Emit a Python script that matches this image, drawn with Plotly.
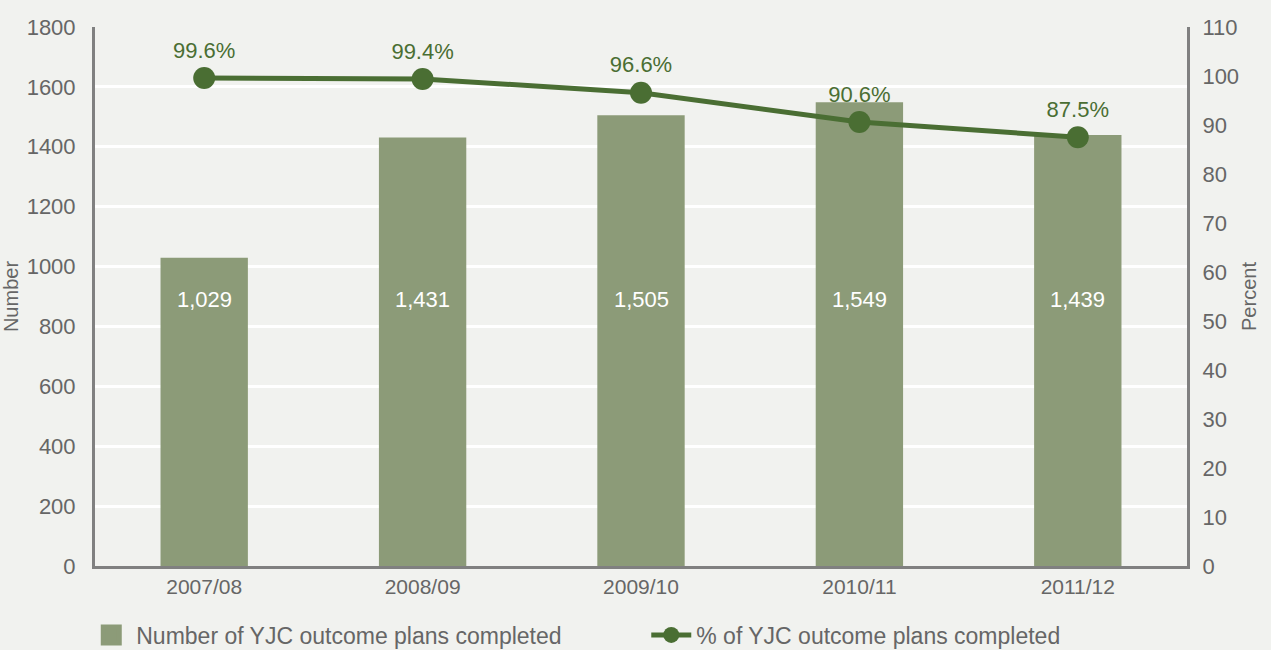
import plotly.graph_objects as go

years = ["2007/08", "2008/09", "2009/10", "2010/11", "2011/12"]
plans_completed = [1029, 1431, 1505, 1549, 1439]
pct_completed = [99.6, 99.4, 96.6, 90.6, 87.5]

bar_color = "#8c9b78"
line_color = "#4a6e33"
bg = "#f1f2ef"
axis_gray = "#808080"
text_gray = "#666666"
font_family = "Liberation Sans, Arial, sans-serif"

fig = go.Figure()
fig.add_trace(go.Bar(
    x=years, y=plans_completed, name="Number of YJC outcome plans completed",
    marker=dict(color=bar_color, line=dict(width=0)), yaxis="y", showlegend=False,
))
# legend entry with large square swatch for the bar series
fig.add_trace(go.Scatter(
    x=[None], y=[None], mode="markers", name="Number of YJC outcome plans completed",
    marker=dict(color=bar_color, symbol="square", size=30, line=dict(color=bar_color, width=8)),
    yaxis="y",
))
fig.add_trace(go.Scatter(
    x=years, y=pct_completed, name="% of YJC outcome plans completed",
    mode="lines+markers+text", yaxis="y2",
    line=dict(color=line_color, width=5),
    marker=dict(color=line_color, size=22),
    text=[f"{v:.1f}%" for v in pct_completed],
    textposition="top center",
    textfont=dict(color=line_color, size=22, family=font_family),
))

for yr, v in zip(years, plans_completed):
    fig.add_annotation(x=yr, y=890, xref="x", yref="y", text=f"{v:,}",
                       showarrow=False, font=dict(color="white", size=22, family=font_family))

fig.update_layout(
    width=1271, height=650,
    paper_bgcolor=bg, plot_bgcolor=bg,
    margin=dict(l=95, r=84, t=27, b=84, autoexpand=False),
    font=dict(family=font_family, color=text_gray, size=20),
    bargap=0.6,
    showlegend=True,
    legend=dict(orientation="h", x=-0.008, y=-0.128, xanchor="left", yanchor="middle",
                font=dict(size=23, color=text_gray), itemsizing="trace", itemwidth=40,
                traceorder="normal", entrywidth=505, bgcolor="rgba(0,0,0,0)"),
    xaxis=dict(showline=True, linecolor=axis_gray, linewidth=3, showgrid=False,
               ticks="", tickfont=dict(size=21, color=text_gray), ticklabelstandoff=0),
    yaxis=dict(range=[0, 1800], dtick=200, showgrid=True, gridcolor="white", gridwidth=3,
               showline=True, linecolor=axis_gray, linewidth=3, zeroline=False,
               tickfont=dict(size=22, color=text_gray), ticklabelstandoff=12,
               automargin=True,
               title=dict(text="Number", font=dict(size=20, color=text_gray), standoff=4)),
    yaxis2=dict(range=[0, 110], dtick=10, overlaying="y", side="right", showgrid=False,
                showline=True, linecolor=axis_gray, linewidth=3, zeroline=False,
                tickfont=dict(size=22, color=text_gray), ticklabelstandoff=8,
                automargin=True,
                title=dict(text="Percent", font=dict(size=20, color=text_gray), standoff=4)),
)

fig.write_html("out.html", config={"displayModeBar": False},
               post_script="document.body.style.margin='0';document.body.style.background='#f1f2ef';")
